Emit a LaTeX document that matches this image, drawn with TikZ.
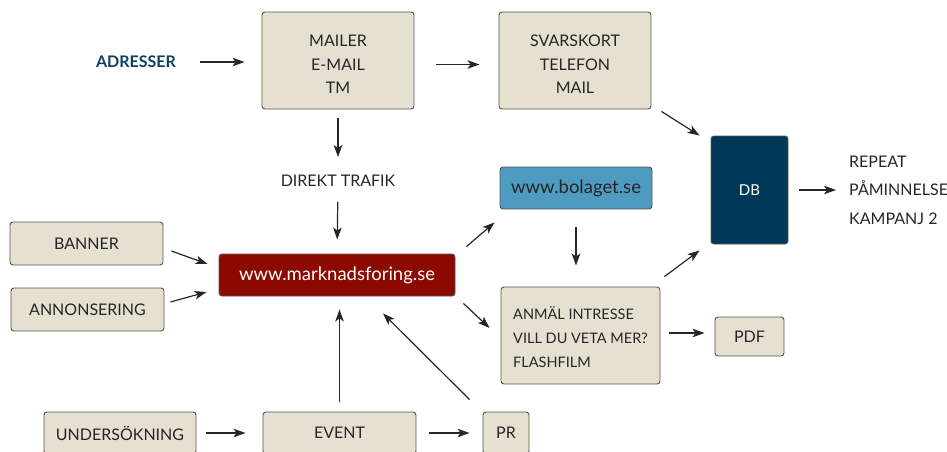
\documentclass[tikz,border=0pt]{standalone}
\usepackage{fontspec}
\setmainfont{Lato}
\usetikzlibrary{arrows.meta,calc}

\definecolor{paper}{HTML}{E6E0D1}
\definecolor{boxline}{HTML}{5A5550}
\definecolor{ink}{HTML}{262626}
\definecolor{webred}{HTML}{8C0A00}
\definecolor{webblue}{HTML}{4E9BC1}
\definecolor{dbnavy}{HTML}{003858}
\definecolor{adrblue}{HTML}{0E3E5E}

\begin{document}
\begin{tikzpicture}[x=1pt, y=-1pt,
    box/.style={draw=boxline, line width=0.9pt, rounded corners=3pt, fill=paper,
        text=ink, inner sep=0pt, align=center,
        font=\fontsize{16}{23.5}\selectfont},
    webbox/.style={box, text=white, font=\fontsize{18.5}{20}\selectfont},
    label/.style={inner sep=0pt, text=ink, font=\fontsize{16}{28.5}\selectfont},
    link/.style={-{Stealth[length=12pt, width=8.5pt, inset=3pt]}, line width=1.2pt, draw=ink}]

    \clip (0,0) rectangle (947,452);

    % Top row
    \node[label, text=adrblue, font=\bfseries\fontsize{16}{18}\selectfont] (adr) at (136,62) {ADRESSER};
    \node[box, text height=66.5pt, minimum width=152pt, minimum height=97pt] (mail) at (338,60.5) {MAILER\\E-MAIL\\TM};
    \node[box, text height=66.5pt, minimum width=152pt, minimum height=97pt] (svar) at (575,60.5) {SVARSKORT\\TELEFON\\MAIL};
    \node[label] (direkt) at (338,181) {DIREKT TRAFIK};

    % Middle
    \node[box, minimum width=153pt, minimum height=43pt] (banner) at (86.5,243.5) {BANNER};
    \node[box, minimum width=153pt, minimum height=43pt] (annons) at (87.5,309.5) {ANNONSERING};
    \node[webbox, fill=webred, minimum width=236pt, minimum height=42pt] (mark) at (337,275) {www.marknadsforing.se};
    \node[webbox, fill=webblue, text=ink, minimum width=152pt, minimum height=42pt] (bolag) at (576,188) {www.bolaget.se};
    \node[box, align=left, text height=63.5pt, minimum width=159pt, minimum height=97pt,
        font=\fontsize{14.5}{24}\selectfont] (anmal) at (580.5,335.5) {ANMÄL INTRESSE\\VILL DU VETA MER?\\FLASHFILM};
    \node[box, minimum width=69pt, minimum height=39pt] (pdf) at (749.5,336.5) {PDF};
    \node[box, fill=dbnavy, text=white, minimum width=77pt, minimum height=108pt,
        font=\fontsize{15}{17}\selectfont] (db) at (749.5,190) {DB};
    \node[label, anchor=west, align=left] (repeat) at (849,190) {REPEAT\\PÅMINNELSE\\KAMPANJ 2};

    % Bottom row
    \node[box, minimum width=152pt, minimum height=42pt] (under) at (120,433) {UNDERSÖKNING};
    \node[box, minimum width=153pt, minimum height=42pt] (event) at (339.5,433) {EVENT};
    \node[box, minimum width=46pt, minimum height=42pt] (pr) at (506,433) {PR};

    % Connectors
    \draw[link, shorten <=24pt, shorten >=17pt] (adr.east) -- (adr.east -| mail.west);
    \draw[link, shorten <=22pt, shorten >=19pt] ($(mail.east)+(0,4)$) -- ($(svar.west)+(0,4)$);
    \draw[link, shorten <=9pt, shorten >=18pt] (mail.south) -- (direkt.north);
    \draw[link, shorten <=15pt, shorten >=14pt] (direkt.south) -- (mark.north);
    \draw[link] ($(banner.east)+(8,7.5)$) -- ($(mark.west)+(-11,-11)$);
    \draw[link] ($(annons.east)+(6,-7.5)$) -- ($(mark.west)+(-12,17)$);
    \draw[link, shorten <=10pt, shorten >=13pt] (event.north) -- (event.north |- mark.south);
    \draw[link] ($(pr.north west)+(-13,-12)$) -- ($(mark.south)+(46,17)$);
    \draw[link, shorten <=10pt, shorten >=17pt] (under.east) -- (event.west);
    \draw[link, shorten <=13pt, shorten >=13pt] (event.east) -- (pr.west);
    \draw[link] ($(mark.north east)+(11,-7)$) -- ($(bolag.south west)+(-5,13)$);
    \draw[link, shorten <=18pt, shorten >=21pt] (bolag.south) -- (bolag.south |- anmal.north);
    \draw[link] ($(mark.south east)+(8,7)$) -- ($(anmal.west)+(-11,-7.5)$);
    \draw[link, shorten <=9pt, shorten >=10pt] ($(anmal.east)+(0,-2.5)$) -- ($(pdf.west)+(0,-3.5)$);
    \draw[link] ($(anmal.north east)+(4,-10)$) -- ($(db.south west)+(-11,6)$);
    \draw[link] ($(svar.south east)+(10,2)$) -- ($(db.north west)+(-11,0)$);
    \draw[link, shorten <=11pt, shorten >=13pt] (db.east) -- (repeat.west);

\end{tikzpicture}
\end{document}
